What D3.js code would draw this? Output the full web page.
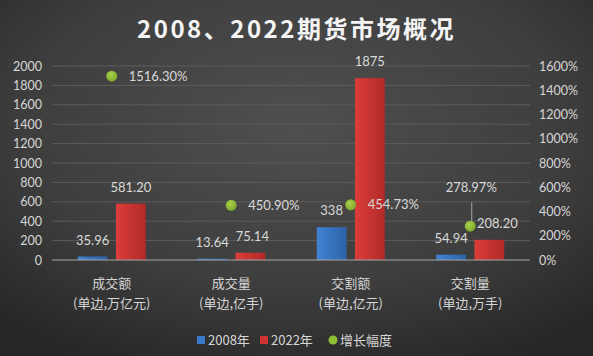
<!DOCTYPE html>
<html><head><meta charset="utf-8">
<script src="https://cdn.jsdelivr.net/npm/d3@7"></script>
<style>
html,body{margin:0;padding:0;background:#333;}
svg{display:block;}
text{fill:#d6d6d6;}
</style></head>
<body>
<script>
const categories = [["成交额","(单边,万亿元)"],["成交量","(单边,亿手)"],["交割额","(单边,亿元)"],["交割量","(单边,万手)"]];
const values2008 = [35.96, 13.64, 338, 54.94];
const values2022 = [581.20, 75.14, 1875, 208.20];
const growth = [1516.30, 450.90, 454.73, 278.97];
const leftTicks = [0,200,400,600,800,1000,1200,1400,1600,1800,2000];
const rightTicks = [0,200,400,600,800,1000,1200,1400,1600];
const seriesNames = ["2008年","2022年","增长幅度"];

const W=593,H=356;
const m={l:52,r:63,t:66,b:96};
const svg=d3.select("body").append("svg").attr("width",W).attr("height",H);
const defs=svg.append("defs");
const bg=defs.append("radialGradient").attr("id","bg").attr("cx","50%").attr("cy","35%").attr("r","75%");
bg.append("stop").attr("offset","0%").attr("stop-color","#4f4f4f");
bg.append("stop").attr("offset","60%").attr("stop-color","#3e3e3e");
bg.append("stop").attr("offset","100%").attr("stop-color","#262626");
const gb=defs.append("linearGradient").attr("id","gb").attr("x1",0).attr("x2",1).attr("y1",0).attr("y2",0);
gb.append("stop").attr("offset","0%").attr("stop-color","#3f82d4");
gb.append("stop").attr("offset","100%").attr("stop-color","#2c62a8");
const gr=defs.append("linearGradient").attr("id","gr").attr("x1",0).attr("x2",1).attr("y1",0).attr("y2",0);
gr.append("stop").attr("offset","0%").attr("stop-color","#db3d3a");
gr.append("stop").attr("offset","100%").attr("stop-color","#b02a28");
const gg=defs.append("radialGradient").attr("id","gg").attr("cx","40%").attr("cy","35%").attr("r","70%");
gg.append("stop").attr("offset","0%").attr("stop-color","#a9d24a");
gg.append("stop").attr("offset","100%").attr("stop-color","#79a52a");

svg.append("rect").attr("width",W).attr("height",H).attr("fill","url(#bg)");

const numFont="Lato, 'Noto Sans CJK SC', sans-serif";
const cjkFont="'Noto Sans CJK SC', sans-serif";

svg.append("text").attr("x",W/2).attr("y",38).attr("text-anchor","middle")
  .style("font-family",cjkFont).style("font-weight","bold").style("font-size","24px")
  .style("letter-spacing","2.5px").style("fill","#f4f4f4")
  .text("2008、2022期货市场概况");

const x=d3.scaleBand().domain(d3.range(categories.length)).range([m.l,W-m.r]);
const y=d3.scaleLinear().domain([0,2000]).range([H-m.b,m.t]);
const y2=d3.scaleLinear().domain([0,1600]).range([H-m.b,m.t]);
const sub=d3.scaleBand().domain([0,1]).range([-34,34]).paddingInner(0.22);

// gridlines
svg.append("g").selectAll("line").data(leftTicks.filter(d=>d>0)).join("line")
  .attr("x1",m.l).attr("x2",W-m.r).attr("y1",d=>y(d)).attr("y2",d=>y(d))
  .attr("stroke","#5c5c5c").attr("stroke-width",1);

// left axis
const la=svg.append("g").attr("transform",`translate(${m.l-10},0)`)
  .call(d3.axisLeft(y).tickValues(leftTicks).tickSize(0).tickPadding(0).tickFormat(d3.format("d")));
la.select(".domain").remove();
la.selectAll("text").style("font-family",numFont).style("font-size","12.5px").style("fill","#d6d6d6");

// right axis
const ra=svg.append("g").attr("transform",`translate(${W-m.r+9},0)`)
  .call(d3.axisRight(y2).tickValues(rightTicks).tickSize(0).tickPadding(0).tickFormat(d=>d+"%"));
ra.select(".domain").remove();
ra.selectAll("text").style("font-family",numFont).style("font-size","12.5px").style("fill","#d6d6d6");

// bars
const cx=i=>x(i)+x.bandwidth()/2;
const series=[values2008,values2022];
const fills=["url(#gb)","url(#gr)"];
series.forEach((vals,s)=>{
  svg.append("g").selectAll("rect").data(vals).join("rect")
    .attr("x",(d,i)=>cx(i)+sub(s)).attr("width",sub.bandwidth())
    .attr("y",d=>y(d)).attr("height",d=>y(0)-y(d)).attr("fill",fills[s]);
});

// axis line
svg.append("line").attr("x1",m.l).attr("x2",W-m.r).attr("y1",y(0)).attr("y2",y(0))
  .attr("stroke","#a6a6a6").attr("stroke-width",1.2);

const fmt=d=>Number.isInteger(d)?String(d):d.toFixed(2);
const barLabelDx=[[0,0,0,0],[0,2,0,8]];
series.forEach((vals,s)=>{
  svg.append("g").selectAll("text").data(vals).join("text")
    .attr("x",(d,i)=>cx(i)+sub(s)+sub.bandwidth()/2+barLabelDx[s][i])
    .attr("y",d=>y(d)-12).attr("text-anchor","middle")
    .style("font-family",numFont).style("font-size","13px").style("fill","#d9d9d9")
    .text(fmt);
});

// growth markers
const last=growth.length-1;
svg.append("line").attr("x1",cx(last)+1.5).attr("x2",cx(last)+1.5)
  .attr("y1",y2(growth[last])-24).attr("y2",y2(growth[last])-5)
  .attr("stroke","#bfbfbf").attr("stroke-width",0.8);
svg.append("g").selectAll("circle").data(growth).join("circle")
  .attr("cx",(d,i)=>cx(i)).attr("cy",d=>y2(d)).attr("r",5.5).attr("fill","url(#gg)");
svg.append("g").selectAll("text").data(growth).join("text")
  .attr("x",(d,i)=>i===last?cx(i)+1:cx(i)+17)
  .attr("y",(d,i)=>i===last?y2(d)-34:y2(d)+4.5)
  .attr("text-anchor",(d,i)=>i===last?"middle":"start")
  .style("font-family",numFont).style("font-size","13px").style("fill","#d9d9d9")
  .text(d=>d.toFixed(2)+"%");

// category labels
const cg=svg.append("g").selectAll("text").data(categories).join("text")
  .attr("text-anchor","middle").style("font-family",cjkFont).style("font-size","13px").style("fill","#d6d6d6");
cg.each(function(d,i){
  const t=d3.select(this);
  d.forEach((line,k)=>t.append("tspan").attr("x",cx(i)).attr("y",288+k*20).text(line));
});

// legend
const lg=svg.append("g").style("font-family",cjkFont).style("font-size","13px");
const items=[{t:seriesNames[0],f:"#3a78c9",x:197},{t:seriesNames[1],f:"#cc3434",x:260},{t:seriesNames[2],f:"#8cbf32",x:329,c:true}];
items.forEach(it=>{
  if(it.c) lg.append("circle").attr("cx",it.x+4).attr("cy",340).attr("r",4.5).attr("fill",it.f);
  else lg.append("rect").attr("x",it.x).attr("y",336).attr("width",8).attr("height",8).attr("fill",it.f);
  lg.append("text").attr("x",it.x+11).attr("y",345).style("fill","#d6d6d6").text(it.t);
});
</script>
</body></html>
